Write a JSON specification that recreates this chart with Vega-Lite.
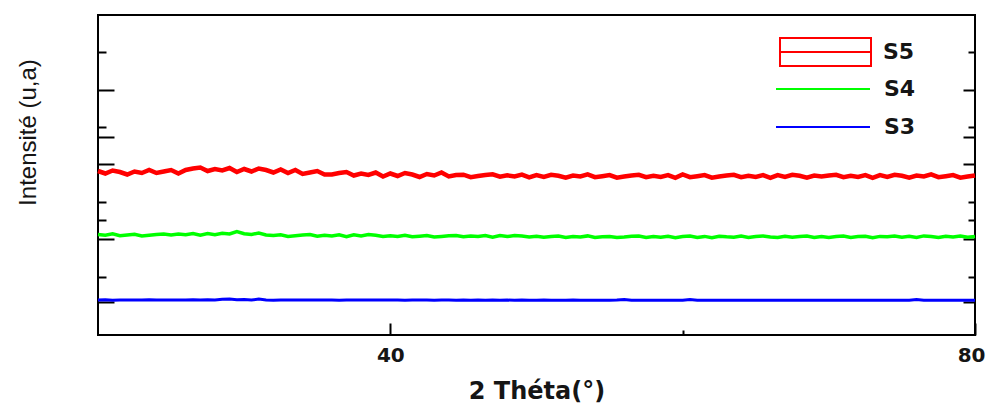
{
  "$schema": "https://vega.github.io/schema/vega-lite/v6.json",
  "width": 877,
  "height": 320,
  "autosize": "none",
  "padding": {"left": 98, "top": 15, "right": 13, "bottom": 69},
  "background": "white",
  "config": {
    "view": {"stroke": "black", "strokeWidth": 2},
    "axis": {"grid": false, "domain": false}
  },
  "data": {
    "values": [
      {"x": 20, "S5": 164.0, "S4": 100.5, "S3": 35.0},
      {"x": 20.5, "S5": 161.5, "S4": 99.8, "S3": 35.2},
      {"x": 21, "S5": 164.5, "S4": 101.1, "S3": 34.8},
      {"x": 21.5, "S5": 163.0, "S4": 99.3, "S3": 35.0},
      {"x": 22, "S5": 160.5, "S4": 100.0, "S3": 35.1},
      {"x": 22.5, "S5": 163.5, "S4": 100.7, "S3": 34.9},
      {"x": 23, "S5": 162.0, "S4": 99.1, "S3": 35.0},
      {"x": 23.5, "S5": 165.0, "S4": 99.8, "S3": 35.2},
      {"x": 24, "S5": 162.0, "S4": 100.5, "S3": 34.9},
      {"x": 24.5, "S5": 163.5, "S4": 100.9, "S3": 35.0},
      {"x": 25, "S5": 165.0, "S4": 100.1, "S3": 35.1},
      {"x": 25.5, "S5": 161.5, "S4": 101.0, "S3": 34.9},
      {"x": 26, "S5": 165.0, "S4": 100.3, "S3": 35.0},
      {"x": 26.5, "S5": 166.5, "S4": 101.5, "S3": 35.2},
      {"x": 27, "S5": 167.5, "S4": 99.7, "S3": 35.0},
      {"x": 27.5, "S5": 164.0, "S4": 101.5, "S3": 35.3},
      {"x": 28, "S5": 166.0, "S4": 100.3, "S3": 35.0},
      {"x": 28.5, "S5": 164.5, "S4": 101.7, "S3": 35.8},
      {"x": 29, "S5": 167.0, "S4": 101.0, "S3": 36.0},
      {"x": 29.5, "S5": 163.0, "S4": 103.5, "S3": 35.2},
      {"x": 30, "S5": 166.0, "S4": 101.3, "S3": 35.4},
      {"x": 30.5, "S5": 163.5, "S4": 100.6, "S3": 35.0},
      {"x": 31, "S5": 166.5, "S4": 101.9, "S3": 35.9},
      {"x": 31.5, "S5": 165.0, "S4": 100.1, "S3": 35.1},
      {"x": 32, "S5": 162.5, "S4": 99.5, "S3": 34.8},
      {"x": 32.5, "S5": 165.5, "S4": 100.2, "S3": 35.0},
      {"x": 33, "S5": 162.0, "S4": 98.6, "S3": 35.1},
      {"x": 33.5, "S5": 165.0, "S4": 99.3, "S3": 34.9},
      {"x": 34, "S5": 161.0, "S4": 100.0, "S3": 35.0},
      {"x": 34.5, "S5": 162.5, "S4": 100.4, "S3": 35.0},
      {"x": 35, "S5": 164.0, "S4": 98.8, "S3": 34.9},
      {"x": 35.5, "S5": 160.5, "S4": 99.7, "S3": 35.1},
      {"x": 36, "S5": 160.5, "S4": 99.0, "S3": 35.0},
      {"x": 36.5, "S5": 162.0, "S4": 100.2, "S3": 34.8},
      {"x": 37, "S5": 163.0, "S4": 98.4, "S3": 35.0},
      {"x": 37.5, "S5": 159.5, "S4": 100.2, "S3": 35.0},
      {"x": 38, "S5": 161.5, "S4": 99.0, "S3": 35.1},
      {"x": 38.5, "S5": 160.0, "S4": 100.4, "S3": 34.9},
      {"x": 39, "S5": 162.5, "S4": 99.7, "S3": 35.0},
      {"x": 39.5, "S5": 158.5, "S4": 98.6, "S3": 35.0},
      {"x": 40, "S5": 161.5, "S4": 99.2, "S3": 34.9},
      {"x": 40.5, "S5": 159.0, "S4": 98.6, "S3": 35.0},
      {"x": 41, "S5": 162.0, "S4": 99.7, "S3": 34.8},
      {"x": 41.5, "S5": 160.5, "S4": 98.2, "S3": 35.0},
      {"x": 42, "S5": 158.0, "S4": 98.8, "S3": 34.9},
      {"x": 42.5, "S5": 161.0, "S4": 99.4, "S3": 35.0},
      {"x": 43, "S5": 159.5, "S4": 98.1, "S3": 34.8},
      {"x": 43.5, "S5": 162.5, "S4": 98.6, "S3": 35.0},
      {"x": 44, "S5": 158.5, "S4": 99.2, "S3": 34.9},
      {"x": 44.5, "S5": 160.0, "S4": 99.5, "S3": 34.8},
      {"x": 45, "S5": 160.3, "S4": 98.2, "S3": 35.0},
      {"x": 45.5, "S5": 157.9, "S4": 99.0, "S3": 34.8},
      {"x": 46, "S5": 159.0, "S4": 98.4, "S3": 34.9},
      {"x": 46.5, "S5": 160.0, "S4": 99.4, "S3": 34.8},
      {"x": 47, "S5": 160.7, "S4": 97.9, "S3": 35.0},
      {"x": 47.5, "S5": 158.3, "S4": 99.4, "S3": 34.8},
      {"x": 48, "S5": 159.7, "S4": 98.4, "S3": 34.9},
      {"x": 48.5, "S5": 158.6, "S4": 99.5, "S3": 34.8},
      {"x": 49, "S5": 160.4, "S4": 99.0, "S3": 34.9},
      {"x": 49.5, "S5": 157.6, "S4": 98.1, "S3": 34.8},
      {"x": 50, "S5": 159.9, "S4": 98.8, "S3": 34.8},
      {"x": 50.5, "S5": 158.1, "S4": 97.8, "S3": 34.9},
      {"x": 51, "S5": 160.2, "S4": 98.4, "S3": 34.7},
      {"x": 51.5, "S5": 159.2, "S4": 98.9, "S3": 34.8},
      {"x": 52, "S5": 157.4, "S4": 97.5, "S3": 34.8},
      {"x": 52.5, "S5": 159.5, "S4": 98.6, "S3": 34.9},
      {"x": 53, "S5": 158.5, "S4": 98.0, "S3": 34.7},
      {"x": 53.5, "S5": 160.6, "S4": 99.1, "S3": 34.8},
      {"x": 54, "S5": 157.8, "S4": 97.6, "S3": 34.8},
      {"x": 54.5, "S5": 158.8, "S4": 98.2, "S3": 34.7},
      {"x": 55, "S5": 159.9, "S4": 98.6, "S3": 34.8},
      {"x": 55.5, "S5": 157.4, "S4": 97.5, "S3": 34.9},
      {"x": 56, "S5": 158.5, "S4": 98.0, "S3": 35.5},
      {"x": 56.5, "S5": 159.5, "S4": 98.8, "S3": 34.8},
      {"x": 57, "S5": 160.2, "S4": 98.9, "S3": 34.7},
      {"x": 57.5, "S5": 157.8, "S4": 97.6, "S3": 34.8},
      {"x": 58, "S5": 159.2, "S4": 98.4, "S3": 34.8},
      {"x": 58.5, "S5": 158.1, "S4": 97.8, "S3": 34.7},
      {"x": 59, "S5": 159.9, "S4": 98.8, "S3": 34.8},
      {"x": 59.5, "S5": 157.1, "S4": 97.3, "S3": 34.7},
      {"x": 60, "S5": 160.5, "S4": 98.4, "S3": 34.8},
      {"x": 60.5, "S5": 157.8, "S4": 98.9, "S3": 35.4},
      {"x": 61, "S5": 158.8, "S4": 97.6, "S3": 34.8},
      {"x": 61.5, "S5": 159.9, "S4": 98.6, "S3": 34.7},
      {"x": 62, "S5": 157.4, "S4": 97.3, "S3": 34.8},
      {"x": 62.5, "S5": 158.5, "S4": 98.8, "S3": 34.7},
      {"x": 63, "S5": 159.5, "S4": 98.2, "S3": 34.8},
      {"x": 63.5, "S5": 160.2, "S4": 97.8, "S3": 34.7},
      {"x": 64, "S5": 157.8, "S4": 98.9, "S3": 34.8},
      {"x": 64.5, "S5": 159.2, "S4": 97.5, "S3": 34.7},
      {"x": 65, "S5": 158.1, "S4": 98.6, "S3": 34.8},
      {"x": 65.5, "S5": 159.9, "S4": 99.1, "S3": 34.8},
      {"x": 66, "S5": 157.1, "S4": 98.0, "S3": 34.7},
      {"x": 66.5, "S5": 159.9, "S4": 97.6, "S3": 34.8},
      {"x": 67, "S5": 158.1, "S4": 98.8, "S3": 34.7},
      {"x": 67.5, "S5": 160.2, "S4": 97.8, "S3": 34.8},
      {"x": 68, "S5": 159.2, "S4": 98.4, "S3": 34.7},
      {"x": 68.5, "S5": 157.4, "S4": 98.9, "S3": 34.8},
      {"x": 69, "S5": 159.5, "S4": 97.5, "S3": 34.7},
      {"x": 69.5, "S5": 158.5, "S4": 98.6, "S3": 34.8},
      {"x": 70, "S5": 159.5, "S4": 97.6, "S3": 34.7},
      {"x": 70.5, "S5": 160.2, "S4": 98.6, "S3": 34.8},
      {"x": 71, "S5": 157.8, "S4": 98.9, "S3": 34.7},
      {"x": 71.5, "S5": 159.2, "S4": 97.5, "S3": 34.8},
      {"x": 72, "S5": 158.1, "S4": 98.4, "S3": 34.7},
      {"x": 72.5, "S5": 159.9, "S4": 98.8, "S3": 34.8},
      {"x": 73, "S5": 157.1, "S4": 97.3, "S3": 34.7},
      {"x": 73.5, "S5": 159.9, "S4": 98.6, "S3": 34.8},
      {"x": 74, "S5": 158.1, "S4": 98.2, "S3": 34.7},
      {"x": 74.5, "S5": 160.2, "S4": 98.9, "S3": 34.8},
      {"x": 75, "S5": 159.2, "S4": 97.8, "S3": 34.7},
      {"x": 75.5, "S5": 157.4, "S4": 98.8, "S3": 34.8},
      {"x": 76, "S5": 159.5, "S4": 97.6, "S3": 35.4},
      {"x": 76.5, "S5": 158.5, "S4": 99.1, "S3": 34.8},
      {"x": 77, "S5": 160.6, "S4": 98.4, "S3": 34.7},
      {"x": 77.5, "S5": 157.8, "S4": 97.5, "S3": 34.8},
      {"x": 78, "S5": 158.8, "S4": 98.8, "S3": 34.7},
      {"x": 78.5, "S5": 159.9, "S4": 98.0, "S3": 34.8},
      {"x": 79, "S5": 157.4, "S4": 98.9, "S3": 34.7},
      {"x": 79.5, "S5": 158.5, "S4": 97.8, "S3": 34.8},
      {"x": 80, "S5": 159.5, "S4": 98.6, "S3": 34.8}
    ]
  },
  "transform": [{"fold": ["S5", "S4", "S3"], "as": ["series", "y"]}],
  "encoding": {
    "x": {
      "field": "x",
      "type": "quantitative",
      "scale": {"domain": [20, 80], "nice": false, "zero": false},
      "axis": {
        "values": [40, 60, 80],
        "labelExpr": "datum.value == 60 ? '' : datum.label",
        "tickSize": {"condition": {"test": "datum.value == 60", "value": -5}, "value": -12},
        "tickWidth": 2,
        "tickColor": "black",
        "labelPadding": 32,
        "labelBaseline": "middle",
        "labelFlush": true,
        "labelFlushOffset": 10,
        "labelFont": "DejaVu Sans",
        "labelFontWeight": "bold",
        "labelFontSize": 20,
        "labelColor": "#151515",
        "title": "2 Théta(°)",
        "titleFont": "DejaVu Sans",
        "titleFontWeight": "bold",
        "titleFontSize": 24,
        "titleColor": "#151515",
        "titleBaseline": "middle",
        "titleY": 56
      }
    }
  },
  "layer": [
    {
      "transform": [{"filter": "datum.series == 'S5'"}],
      "mark": {"type": "line", "strokeWidth": 4.5},
      "encoding": {
        "y": {
          "field": "y",
          "type": "quantitative",
          "scale": {"domain": [0, 320], "nice": false, "zero": false},
          "axis": {
            "orient": "left",
            "values": [283, 245, 208, 198, 171, 133, 115, 96, 58, 33],
            "labels": false,
            "tickSize": {"condition": {"test": "datum.value == 245 || datum.value == 198 || datum.value == 171 || datum.value == 96 || datum.value == 33", "value": -16}, "value": -8},
            "tickWidth": 2,
            "tickColor": "black",
            "title": "Intensité (u,a)",
            "titleFont": "Liberation Sans",
            "titleFontWeight": "normal",
            "titleFontSize": 24,
            "titleColor": "#151515",
            "titleAngle": -90,
            "titleAlign": "center",
            "titleBaseline": "middle",
            "titleX": -70,
            "titleY": 117
          }
        },
        "color": {
          "field": "series",
          "type": "nominal",
          "scale": {"domain": ["S5"], "range": ["#ff0000"]},
          "legend": {
            "orient": "none",
            "legendX": 681,
            "legendY": 22,
            "title": null,
            "padding": 0,
            "symbolType": "M-1,-0.31H1V0.31H-1ZM-1,0H1",
            "symbolSize": 8281,
            "symbolStrokeWidth": 2,
            "clipHeight": 30,
            "labelOffset": 11,
            "labelFont": "DejaVu Sans",
            "labelFontWeight": "bold",
            "labelFontSize": 22,
            "labelColor": "#151515"
          }
        }
      }
    },
    {
      "transform": [{"filter": "datum.series == 'S4'"}],
      "mark": {"type": "line", "strokeWidth": 3.5},
      "encoding": {
        "y": {
          "field": "y",
          "type": "quantitative",
          "scale": {"domain": [0, 320], "nice": false, "zero": false},
          "axis": {
            "orient": "right",
            "values": [283, 245, 208, 198, 171, 133, 115, 96, 58, 33],
            "labels": false,
            "tickSize": {"condition": {"test": "datum.value == 245 || datum.value == 198 || datum.value == 171 || datum.value == 96 || datum.value == 33", "value": -12}, "value": -7},
            "tickWidth": 2,
            "tickColor": "black",
            "title": null
          }
        },
        "color": {
          "field": "series",
          "type": "nominal",
          "scale": {"domain": ["S4", "S3"], "range": ["#00ff00", "#0000ff"]},
          "legend": {
            "orient": "none",
            "legendX": 677,
            "legendY": 64,
            "title": null,
            "padding": 0,
            "symbolType": "stroke",
            "symbolSize": 8836,
            "symbolStrokeWidth": 2,
            "clipHeight": 20,
            "rowPadding": 16,
            "labelOffset": 13,
            "labelFont": "DejaVu Sans",
            "labelFontWeight": "bold",
            "labelFontSize": 22,
            "labelColor": "#151515"
          }
        }
      }
    },
    {
      "transform": [{"filter": "datum.series == 'S3'"}],
      "mark": {"type": "line", "strokeWidth": 3},
      "encoding": {
        "y": {
          "field": "y",
          "type": "quantitative",
          "scale": {"domain": [0, 320], "nice": false, "zero": false},
          "axis": null
        },
        "color": {
          "field": "series",
          "type": "nominal",
          "scale": {"domain": ["S3"], "range": ["#0000ff"]},
          "legend": null
        }
      }
    }
  ],
  "resolve": {
    "scale": {"color": "independent"},
    "legend": {"color": "independent"},
    "axis": {"y": "independent"}
  }
}
